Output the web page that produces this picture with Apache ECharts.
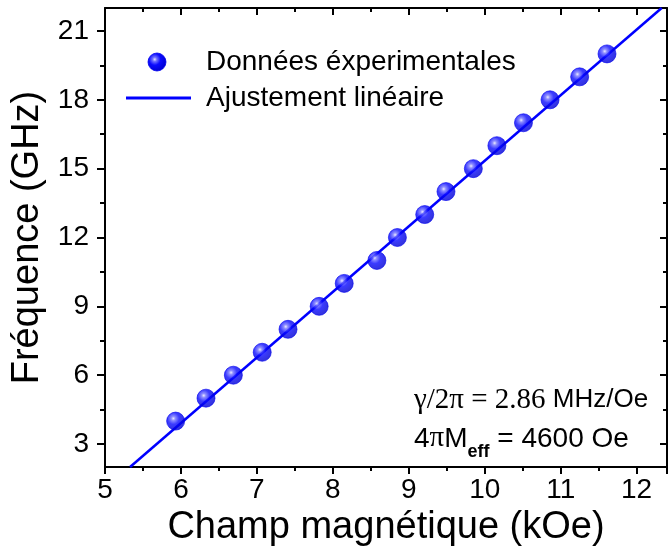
<!DOCTYPE html>
<html>
<head>
<meta charset="utf-8">
<script src="https://cdn.jsdelivr.net/npm/echarts@6/dist/echarts.min.js"></script>
<style>
html,body{margin:0;padding:0;background:#fff;}
#chart{width:668px;height:558px;}
</style>
</head>
<body>
<div id="chart"></div>
<script>
// Data
const fieldKOe = [5.93, 6.33, 6.69, 7.07, 7.41, 7.82, 8.15, 8.58, 8.85, 9.21, 9.49, 9.85, 10.16, 10.51, 10.86, 11.25, 11.61];
const freqGHz  = [4, 5, 6, 7, 8, 9, 10, 11, 12, 13, 14, 15, 16, 17, 18, 19, 20];
const fitX = [5.33, 12.33];
const fitY = [2.0, 22.0];
const yMajorTicks = [3, 6, 9, 12, 15, 18, 21];
const yMinorTicks = [4.5, 7.5, 10.5, 13.5, 16.5, 19.5];
const legendNames = ['Données éxperimentales', 'Ajustement linéaire'];
const xTitle = 'Champ magnétique (kOe)';
const yTitle = 'Fréquence (GHz)';

const SANS = 'Liberation Sans, Arial, sans-serif';
const SERIF = 'Liberation Serif, Times New Roman, serif';
const BLUE = '#0000ff';
const ballColor = {
  type: 'radial', x: 0.38, y: 0.36, r: 0.62,
  colorStops: [
    {offset: 0, color: '#e4e4ff'},
    {offset: 0.18, color: '#7070ff'},
    {offset: 0.5, color: '#0a0aff'},
    {offset: 1, color: '#0000d4'}
  ]
};

const scatterData = fieldKOe.map((x, i) => [x, freqGHz[i]]);
const fitData = fitX.map((x, i) => [x, fitY[i]]);

const chart = echarts.init(document.getElementById('chart'), null, {renderer: 'canvas'});

const axLine = {show: true, lineStyle: {color: '#000', width: 2}};
const xBase = {type: 'value', min: 5, max: 12.4, interval: 1, splitLine: {show: false}, gridIndex: 0};

chart.setOption({
  animation: false,
  backgroundColor: '#fff',
  grid: {left: 105, right: 1, top: 8, bottom: 91, containLabel: false},
  xAxis: [
    Object.assign({}, xBase, {
      position: 'bottom',
      axisLine: axLine,
      axisTick: {show: true, inside: false, length: 7, lineStyle: {color: '#000', width: 2}},
      minorTick: {show: true, splitNumber: 2, length: 4, lineStyle: {color: '#000', width: 2}},
      axisLabel: {color: '#000', fontSize: 28, fontFamily: SANS, margin: 9, showMaxLabel: false},
      name: xTitle, nameLocation: 'middle', nameGap: 42,
      nameTextStyle: {color: '#000', fontSize: 38, fontFamily: SANS}
    }),
    Object.assign({}, xBase, {
      position: 'top',
      axisLine: axLine,
      axisTick: {show: true, inside: true, length: 7, lineStyle: {color: '#000', width: 2}},
      minorTick: {show: true, splitNumber: 2, length: 4, lineStyle: {color: '#000', width: 2}},
      axisLabel: {show: false}
    })
  ],
  yAxis: [
    {
      type: 'value', min: 2, max: 22, position: 'left',
      splitLine: {show: false},
      axisLine: axLine,
      axisTick: {show: true, inside: false, length: 8, customValues: yMajorTicks, lineStyle: {color: '#000', width: 2}},
      axisLabel: {color: '#000', fontSize: 28, fontFamily: SANS, margin: 16, customValues: yMajorTicks},
      name: yTitle, nameLocation: 'middle', nameGap: 55, nameRotate: 90,
      nameTextStyle: {color: '#000', fontSize: 38, fontFamily: SANS}
    },
    {
      type: 'value', min: 2, max: 22, position: 'left',
      splitLine: {show: false},
      axisLine: {show: false},
      axisTick: {show: true, inside: false, length: 5, customValues: yMinorTicks, lineStyle: {color: '#000', width: 2}},
      axisLabel: {show: false, customValues: yMinorTicks}
    },
    {
      type: 'value', min: 2, max: 22, position: 'right',
      splitLine: {show: false},
      axisLine: axLine,
      axisTick: {show: true, inside: true, length: 7, customValues: yMajorTicks, lineStyle: {color: '#000', width: 2}},
      axisLabel: {show: false, customValues: yMajorTicks}
    },
    {
      type: 'value', min: 2, max: 22, position: 'right',
      splitLine: {show: false},
      axisLine: {show: false},
      axisTick: {show: true, inside: true, length: 4, customValues: yMinorTicks, lineStyle: {color: '#000', width: 2}},
      axisLabel: {show: false, customValues: yMinorTicks}
    }
  ],
  series: [
    {
      name: legendNames[1], type: 'line', data: fitData,
      xAxisIndex: 0, yAxisIndex: 0,
      showSymbol: false, symbol: 'none', clip: true,
      lineStyle: {color: BLUE, width: 2.5}, z: 2
    },
    {
      name: legendNames[0], type: 'scatter', data: scatterData,
      xAxisIndex: 0, yAxisIndex: 0,
      symbol: 'circle', symbolSize: 18,
      itemStyle: {color: ballColor, borderColor: '#0000f0', borderWidth: 0.8}, z: 3
    }
  ],
  graphic: [
    {type: 'circle', shape: {cx: 157, cy: 62, r: 9}, style: {fill: ballColor, stroke: '#0000f0', lineWidth: 0.8}, z: 10},
    {type: 'line', shape: {x1: 126, y1: 98, x2: 191, y2: 98}, style: {stroke: BLUE, lineWidth: 3}, z: 10},
    {type: 'text', x: 206, y: 62, style: {text: legendNames[0], fill: '#000', font: '28px ' + SANS, textVerticalAlign: 'middle'}, z: 10},
    {type: 'text', x: 206, y: 98, style: {text: legendNames[1], fill: '#000', font: '28px ' + SANS, textVerticalAlign: 'middle'}, z: 10},
    {type: 'text', x: 414, y: 400, z: 10, style: {
      text: '{s|γ/2π = 2.86}{a| MHz/Oe}',
      textVerticalAlign: 'middle',
      rich: {
        s: {fontFamily: SERIF, fontSize: 29, fill: '#000', verticalAlign: 'middle', lineHeight: 32},
        a: {fontFamily: SANS, fontSize: 26, fill: '#000', verticalAlign: 'middle', lineHeight: 32}
      }
    }},
    {type: 'text', x: 414, y: 438, z: 10, style: {
      text: '{a|4}{p|π}{a|M}{b|eff}{a| = 4600 Oe}',
      textVerticalAlign: 'middle',
      rich: {
        a: {fontFamily: SANS, fontSize: 28, fill: '#000', verticalAlign: 'bottom', lineHeight: 30},
        p: {fontFamily: SERIF, fontSize: 29, fill: '#000', verticalAlign: 'bottom', lineHeight: 30},
        b: {fontFamily: SANS, fontSize: 18, fontWeight: 'bold', fill: '#000', verticalAlign: 'bottom', lineHeight: 18, padding: [0, 0, -8, 0]}
      }
    }}
  ]
});
</script>
</body>
</html>
